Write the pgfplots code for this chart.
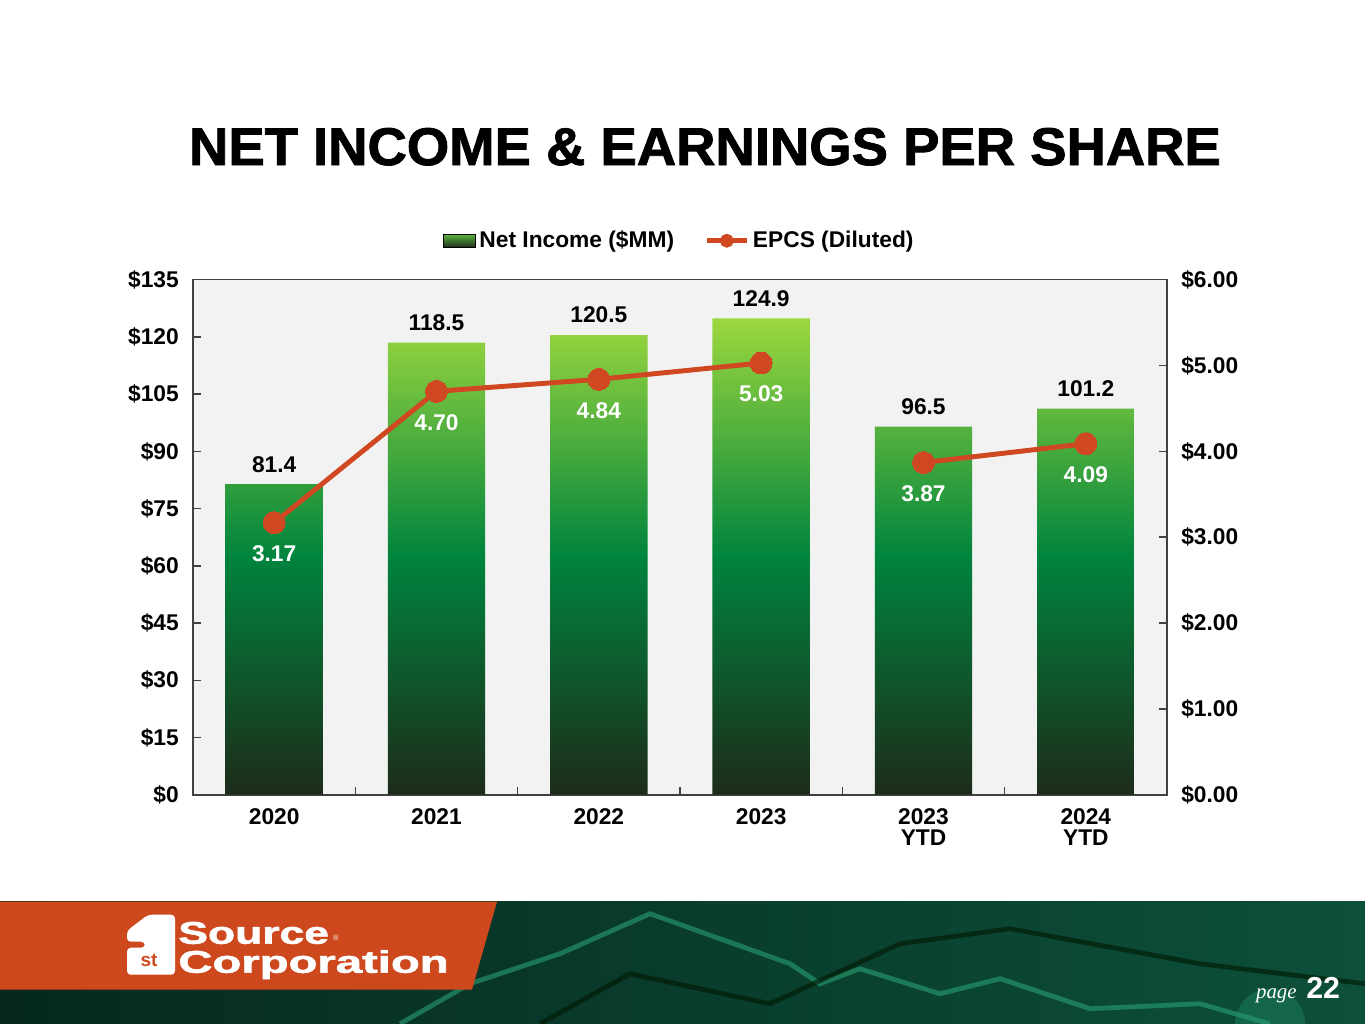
\documentclass[border=0pt]{standalone}
\usepackage{fontspec}
\setmainfont{Liberation Sans}
\newfontfamily\serifit{Liberation Serif}
\newfontfamily\heavy{Liberation Sans Bold}[FakeBold=1.6]
\usepackage{pgfplots}
\usepackage{pgfplotstable}
\pgfplotsset{compat=1.18}
\definecolor{barTop}{RGB}{156,216,62}
\definecolor{barMid}{RGB}{0,132,61}
\definecolor{barBot}{RGB}{29,43,26}
\definecolor{lineC}{RGB}{207,72,34}
\definecolor{plotBg}{RGB}{242,242,242}
\definecolor{orangeB}{RGB}{206,72,30}
\definecolor{bannerA}{RGB}{6,40,30}
\definecolor{bannerB}{RGB}{12,80,58}
\definecolor{tealL}{RGB}{40,160,115}
\pgfplotstableread{
x ni
0 81.4
1 118.5
2 120.5
3 124.9
4 96.5
5 101.2
}\nitable
\pgfplotstableread{
x eps
0 3.17
1 4.70
2 4.84
3 5.03
3.5 nan
4 3.87
5 4.09
}\epstable
\newcommand{\lbl}{\fontsize{12}{13}\selectfont\bfseries}
\begin{document}
\begin{tikzpicture}
\fill[white] (0,0) rectangle (720pt,540pt);
\path[use as bounding box] (0,0) rectangle (720pt,540pt);
% footer decoration
\begin{scope}[x=0.527473pt,y=0.527473pt]
\shade[left color=bannerA, right color=bannerB] (0,0) rectangle (1365,122);
\draw[tealL, line width=2.5pt, opacity=0.6] (400,0) -- (470,40) -- (560,70) -- (650,110) -- (790,60) -- (820,40) -- (860,55) -- (940,30) -- (1000,45) -- (1090,15) -- (1200,20) -- (1270,0);
\draw[black!70!green!30!black, line width=2.5pt, opacity=0.6] (540,0) -- (630,50) -- (770,20) -- (900,80) -- (1010,95) -- (1200,60) -- (1365,40);
\fill[tealL, opacity=0.3] (1270,0) circle (35);
\fill[orangeB] (0,122) -- (497,122) -- (472,34) -- (0,34) -- cycle;
\fill[white, rounded corners=2pt] (127,49) -- (175,49) -- (175,109) -- (148,109) -- (127,93) -- (127,82) -- (145,82) -- (145,76) -- (127,76) -- cycle;
\node[orangeB, font=\fontsize{10}{10}\selectfont\bfseries, inner sep=0pt] at (149,63) {st};
\node[white, anchor=base west, font=\fontsize{16.5}{17}\selectfont\heavy, inner sep=0pt] at (178,80) {\scalebox{1.42}[1]{Source}};
\node[white, font=\fontsize{4}{4}\selectfont, inner sep=0pt] at (336,86) {\textregistered};
\node[white, anchor=base west, font=\fontsize{16.5}{17}\selectfont\heavy, inner sep=0pt] at (178,51) {\scalebox{1.51}[1]{Corporation}};
\node[white, anchor=base east, inner sep=0pt, font=\fontsize{11}{12}\selectfont\serifit\itshape] at (1297,25) {page};
\node[white, anchor=base west, inner sep=0pt, font=\fontsize{16}{17}\selectfont\bfseries] at (1306,25) {22};
% title
\node[font=\fontsize{28}{32}\selectfont\heavy, inner sep=0pt] at (705,877) {\scalebox{1.026}[1]{NET INCOME \& EARNINGS PER SHARE}};
\end{scope}
\begin{axis}[
  at={(101.80pt,120.79pt)}, anchor=south west,
  scale only axis, width=513.76pt, height=271.65pt,
  xmin=-0.5, xmax=5.5, ymin=0, ymax=135,
  axis background/.style={fill=plotBg},
  axis line style={draw=black!75, line width=0.8pt},
  xtick={0.5,1.5,2.5,3.5,4.5}, xticklabels={},
  xtick pos=bottom, ytick pos=left,
  tick align=inside,
  tick style={draw=black!75, line width=0.8pt},
  major tick length=4pt,
  extra x ticks={0,1,2,3,4,5},
  extra x tick labels={2020,2021,2022,2023,{2023\\[-2pt]YTD},{2024\\[-2pt]YTD}},
  extra x tick style={major tick length=0pt, tick style={draw=none}, xticklabel style={align=center, font=\lbl, yshift=-4pt}},
  ytick={0,15,30,45,60,75,90,105,120,135},
  yticklabels={\$0,\$15,\$30,\$45,\$60,\$75,\$90,\$105,\$120,\$135},
  yticklabel style={font=\lbl, xshift=-4pt},
]
\addplot[ybar, bar width=0.6, draw=none, top color=barTop, bottom color=barBot, middle color=barMid,
  nodes near coords={\pgfmathprintnumber[fixed,zerofill,precision=1,assume math mode=true]{\pgfplotspointmeta}},
  every node near coord/.append style={anchor=center, yshift=10.5pt, font=\lbl, text=black}]
  table[x=x,y=ni]{\nitable};
\end{axis}
\begin{axis}[
  at={(101.80pt,120.79pt)}, anchor=south west,
  scale only axis, width=513.76pt, height=271.65pt,
  xmin=-0.5, xmax=5.5, ymin=0, ymax=6,
  axis x line=none, axis y line*=right,
  axis line style={-, draw=black!75, line width=0.8pt},
  tick align=inside,
  tick style={draw=black!75, line width=0.8pt},
  major tick length=4pt,
  ytick={0,1,2,3,4,5,6},
  yticklabels={\$0.00,\$1.00,\$2.00,\$3.00,\$4.00,\$5.00,\$6.00},
  yticklabel style={font=\lbl, xshift=4pt},
  unbounded coords=jump,
  legend style={at={(0.5,1.0757)}, anchor=center, draw=none, fill=none, font=\lbl,
    legend columns=2, /tikz/every even column/.append style={column sep=14pt}},
]
\addlegendimage{legend image code/.code={\fill[top color=barTop!60!barMid, bottom color=barBot] (0pt,-3.5pt) rectangle (17pt,3.5pt);}}
\addlegendentry{Net Income (\$MM)}
\addplot[lineC, line width=2.6pt, mark=*, mark size=5.8pt, mark options={fill=lineC, draw=lineC, line width=0pt},
  legend image code/.code={\draw[lineC, line width=2.6pt] (0pt,0pt) -- (21pt,0pt); \fill[lineC] (10.5pt,0pt) circle (2.3pt);},
  nodes near coords={\pgfmathprintnumber[fixed,zerofill,precision=2,assume math mode=true]{\pgfplotspointmeta}},
  every node near coord/.append style={anchor=center, yshift=-16.4pt, font=\lbl, text=white}]
  table[x=x,y=eps]{\epstable};
\addlegendentry{EPCS (Diluted)}
\end{axis}
\end{tikzpicture}
\end{document}
